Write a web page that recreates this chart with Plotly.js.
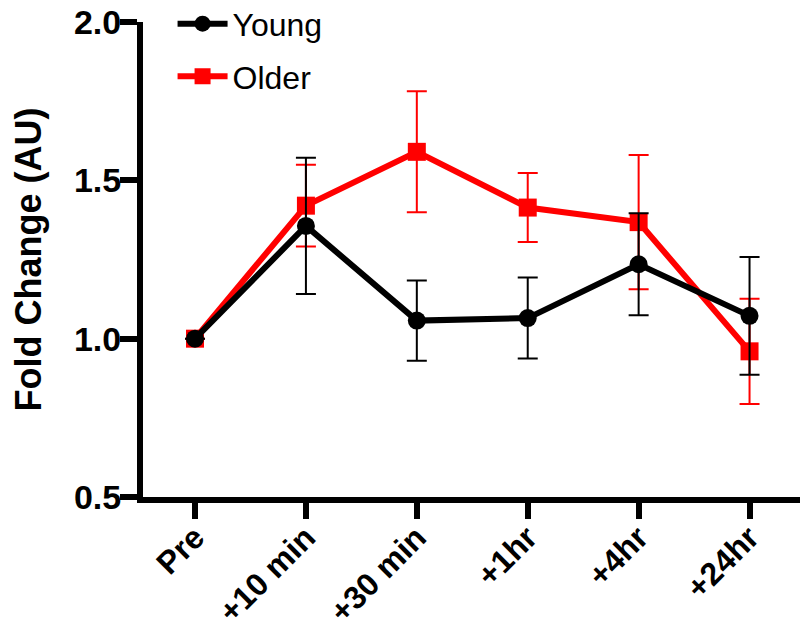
<!DOCTYPE html>
<html>
<head>
<meta charset="utf-8">
<script src="https://cdn.plot.ly/plotly-3.0.1.min.js"></script>
<style>html,body{margin:0;padding:0;background:#fff;}#chart{width:800px;height:633px;}</style>
</head>
<body>
<div id="chart"></div>
<script>
var categories = ["Pre", "+10 min", "+30 min", "+1hr", "+4hr", "+24hr"];
var youngValues = [1.0, 1.356, 1.057, 1.065, 1.235, 1.072];
var youngErrors = [null, 0.215, 0.127, 0.128, 0.161, 0.186];
var olderValues = [1.0, 1.42, 1.59, 1.414, 1.368, 0.96];
var olderErrors = [null, 0.129, 0.191, 0.109, 0.212, 0.166];
var yTickVals = [0.5, 1.0, 1.5, 2.0];
var yTickText = ["0.5", "1.0", "1.5", "2.0"];

var xIdx = categories.map(function(c, i){ return i; });
var FONT = "Liberation Sans, Arial, sans-serif";

var older = {
  x: xIdx, y: olderValues, name: "Older", type: "scatter", mode: "lines+markers",
  legendgroup: "b", legendrank: 2,
  line: {color: "#ff0000", width: 6},
  marker: {symbol: "square", size: 18, color: "#ff0000"},
  error_y: {type: "data", array: olderErrors, visible: true, color: "#ff0000", thickness: 2, width: 10}
};
var young = {
  x: xIdx, y: youngValues, name: "Young", type: "scatter", mode: "lines+markers",
  legendgroup: "a", legendrank: 1,
  line: {color: "#000000", width: 6},
  marker: {symbol: "circle", size: 18, color: "#000000"},
  error_y: {type: "data", array: youngErrors, visible: true, color: "#000000", thickness: 2, width: 10}
};

var layout = {
  width: 800, height: 633,
  margin: {l: 143, r: 0, t: 22, b: 136, autoexpand: false},
  paper_bgcolor: "#fff", plot_bgcolor: "#fff",
  showlegend: true,
  legend: {x: 0.045, y: 1.054, xanchor: "left", yanchor: "top", traceorder: "grouped",
           font: {family: FONT, size: 32, color: "#000"}, bgcolor: "rgba(0,0,0,0)", itemwidth: 50, tracegroupgap: 8},
  xaxis: {
    range: [-0.469, 5.455], tickmode: "array", tickvals: xIdx, ticktext: categories,
    showline: true, linecolor: "#000", linewidth: 6, showgrid: false, zeroline: false,
    ticks: "outside", ticklen: 16, tickwidth: 6, tickcolor: "#000", tickangle: -45,
    ticklabelstandoff: -13,
    tickfont: {family: FONT, size: 32, color: "#000", weight: "bold"}
  },
  yaxis: {
    range: [0.5, 2.0], tickmode: "array", tickvals: yTickVals, ticktext: yTickText,
    showline: true, linecolor: "#000", linewidth: 6, showgrid: false, zeroline: false,
    ticks: "outside", ticklen: 17, tickwidth: 6, tickcolor: "#000",
    ticklabelstandoff: -8,
    tickfont: {family: FONT, size: 34, color: "#000", weight: "bold"},
    title: {text: "Fold Change (AU)", font: {family: FONT, size: 36, color: "#000", weight: "bold"}, standoff: 23}
  }
};

Plotly.newPlot("chart", [older, young], layout, {displayModeBar: false, staticPlot: true});
</script>
</body>
</html>
